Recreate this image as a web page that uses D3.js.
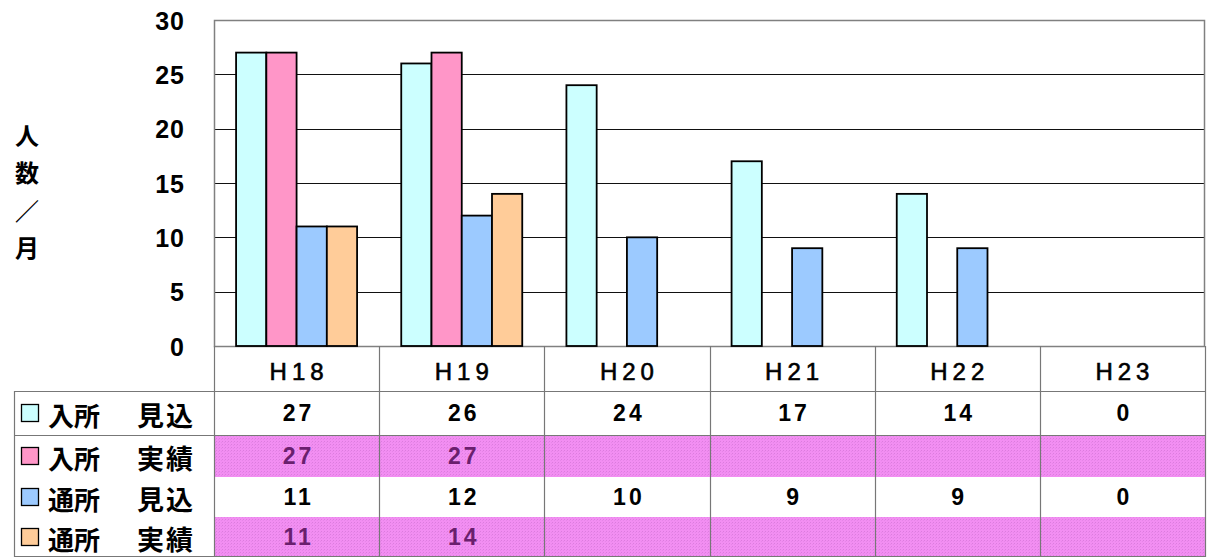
<!DOCTYPE html>
<html>
<head>
<meta charset="utf-8">
<script src="https://cdn.jsdelivr.net/npm/d3@7"></script>
<style>
  html, body { margin: 0; padding: 0; background: #fff; }
  svg { display: block; }
  .num { font-family: "Liberation Sans", Arial, sans-serif; font-weight: bold; }
  .cat { font-family: "Liberation Sans", Arial, sans-serif; }
  .jp { font-family: "Noto Sans CJK JP", sans-serif; font-weight: bold; }
</style>
</head>
<body>
<svg id="chart" width="1207" height="559"></svg>
<script>
// Fiscal years (Heisei)
const years = ["H18", "H19", "H20", "H21", "H22", "H23"];
// Series names shown in the data table legend (facility / kind)
const seriesNames = [["入所", "見込"], ["入所", "実績"], ["通所", "見込"], ["通所", "実績"]];
// Persons per month; null = no result yet
const nyushoMikomi = [27, 26, 24, 17, 14, 0];
const nyushoJisseki = [27, 27, null, null, null, null];
const tsushoMikomi = [11, 12, 10, 9, 9, 0];
const tsushoJisseki = [11, 14, null, null, null, null];
const yTicks = [0, 5, 10, 15, 20, 25, 30];
const yLabelChars = ["人", "数", "／", "月"];

const seriesValues = [nyushoMikomi, nyushoJisseki, tsushoMikomi, tsushoJisseki];
const seriesColors = ["#ccffff", "#ff96c8", "#9ccaff", "#ffcc99"];
const rowShaded = [false, true, false, true];

const svg = d3.select("#chart");
const W = 1207, H = 559;

const plot = { left: 214, right: 1205, top: 20, bottom: 346 };
const tableTop = 391, rowH = [44, 42, 40, 40];

const x = d3.scaleBand().domain(years).range([plot.left, plot.right]).paddingInner(0).paddingOuter(0);
const xs = d3.scaleBand().domain(d3.range(seriesNames.length)).range([0, x.bandwidth()]).paddingInner(0).paddingOuter(0.73);
const y = d3.scaleLinear().domain([0, 30]).range([plot.bottom, plot.top]);

svg.append("rect").attr("width", W).attr("height", H).attr("fill", "#fff");

// shading pattern for "実績" rows
const defs = svg.append("defs");
const pat = defs.append("pattern").attr("id", "dots").attr("width", 3).attr("height", 3)
  .attr("patternUnits", "userSpaceOnUse");
pat.append("rect").attr("width", 3).attr("height", 3).attr("fill", "#f28ef2");
pat.append("rect").attr("x", 0).attr("y", 0).attr("width", 1).attr("height", 1).attr("fill", "#dc7cde");
pat.append("rect").attr("x", 2).attr("y", 1).attr("width", 1).attr("height", 1).attr("fill", "#e686e8");

// gridlines
svg.append("g")
  .selectAll("line").data(yTicks.filter(t => t > 0 && t < 30)).join("line")
  .attr("x1", plot.left).attr("x2", plot.right)
  .attr("y1", d => Math.round(y(d)) + 0.5).attr("y2", d => Math.round(y(d)) + 0.5)
  .attr("stroke", "#111").attr("stroke-width", 1);

// plot frame
svg.append("rect")
  .attr("x", plot.left + 0.5).attr("y", plot.top + 0.5)
  .attr("width", plot.right - plot.left - 1).attr("height", plot.bottom - plot.top)
  .attr("fill", "none").attr("stroke", "#808080").attr("stroke-width", 1.5);

// y-axis tick labels
const yAxis = d3.axisLeft(y).tickValues(yTicks).tickSize(0).tickPadding(0);
const yg = svg.append("g").attr("transform", `translate(185,1)`).call(yAxis);
yg.select(".domain").remove();
yg.selectAll("text").attr("class", "num").attr("font-size", 25).attr("fill", "#000")
  .attr("letter-spacing", 1);

// vertical y-axis title
svg.append("g").selectAll("text").data(yLabelChars).join("text")
  .attr("class", "jp").attr("x", 27).attr("y", (d, i) => 134 + i * 37.5)
  .attr("text-anchor", "middle").attr("dominant-baseline", "central")
  .attr("font-size", 24).attr("fill", "#000").text(d => d);

// bars
const barData = [];
years.forEach((yr, i) => {
  seriesValues.forEach((vals, s) => {
    const v = vals[i];
    if (v != null && v > 0) barData.push({ yr, s, v });
  });
});
svg.append("g").selectAll("rect").data(barData).join("rect")
  .attr("x", d => x(d.yr) + xs(d.s))
  .attr("y", d => y(d.v))
  .attr("width", xs.bandwidth())
  .attr("height", d => y(0) - y(d.v))
  .attr("fill", d => seriesColors[d.s])
  .attr("stroke", "#000").attr("stroke-width", 1.8);

// data table: shaded rows
const rowTop = i => tableTop + d3.sum(rowH.slice(0, i));
svg.append("g").selectAll("rect").data(d3.range(4).filter(i => rowShaded[i])).join("rect")
  .attr("x", plot.left).attr("y", i => rowTop(i))
  .attr("width", plot.right - plot.left).attr("height", i => rowH[i])
  .attr("fill", "url(#dots)");

// table lines
const tl = svg.append("g").attr("stroke", "#777").attr("stroke-width", 1.2);
tl.selectAll("line.v").data(years.map(d => x(d)).concat([plot.right])).join("line")
  .attr("class", "v")
  .attr("x1", d => Math.round(d) + 0.5).attr("x2", d => Math.round(d) + 0.5)
  .attr("y1", plot.bottom).attr("y2", rowTop(4));
tl.append("line").attr("x1", 14).attr("x2", plot.right).attr("y1", tableTop + 0.5).attr("y2", tableTop + 0.5);
tl.append("line").attr("x1", 14).attr("x2", plot.right).attr("y1", rowTop(1) + 0.5).attr("y2", rowTop(1) + 0.5);
tl.append("line").attr("x1", 14).attr("x2", plot.right).attr("y1", rowTop(4) - 0.5).attr("y2", rowTop(4) - 0.5);
tl.append("line").attr("x1", 14.5).attr("x2", 14.5).attr("y1", tableTop).attr("y2", rowTop(4));

// category labels
svg.append("g").selectAll("text").data(years).join("text")
  .attr("class", "cat").attr("x", d => x(d) + x.bandwidth() / 2 + 2.5).attr("y", 371)
  .attr("text-anchor", "middle").attr("dominant-baseline", "central")
  .attr("font-size", 24).attr("letter-spacing", 5).attr("stroke", "#000").attr("stroke-width", 0.6)
  .attr("fill", "#000").text(d => d);

// legend column
const leg = svg.append("g");
seriesNames.forEach((name, i) => {
  const cy = rowTop(i) + rowH[i] / 2;
  leg.append("rect").attr("x", 21.5).attr("y", cy - 8.5).attr("width", 17).attr("height", 17)
    .attr("fill", seriesColors[i]).attr("stroke", "#000").attr("stroke-width", 1.3);
  leg.append("text").attr("class", "jp").attr("x", 48).attr("y", cy + 1)
    .attr("dominant-baseline", "central").attr("font-size", 26).attr("fill", "#000").text(name[0]);
  leg.append("text").attr("class", "jp").attr("x", 137).attr("y", cy + 1)
    .attr("dominant-baseline", "central").attr("font-size", 27).attr("letter-spacing", 2)
    .attr("fill", "#000").text(name[1]);
});

// table values
seriesValues.forEach((vals, s) => {
  const cy = rowTop(s) + rowH[s] / 2;
  svg.append("g").selectAll("text").data(years.map((yr, i) => ({ yr, v: vals[i] })).filter(d => d.v != null)).join("text")
    .attr("class", "num").attr("x", d => x(d.yr) + x.bandwidth() / 2 + 2).attr("y", cy)
    .attr("text-anchor", "middle").attr("dominant-baseline", "central")
    .attr("font-size", 23).attr("letter-spacing", 3)
    .attr("fill", rowShaded[s] ? "#6a1f6e" : "#000").text(d => d.v);
});
</script>
</body>
</html>
